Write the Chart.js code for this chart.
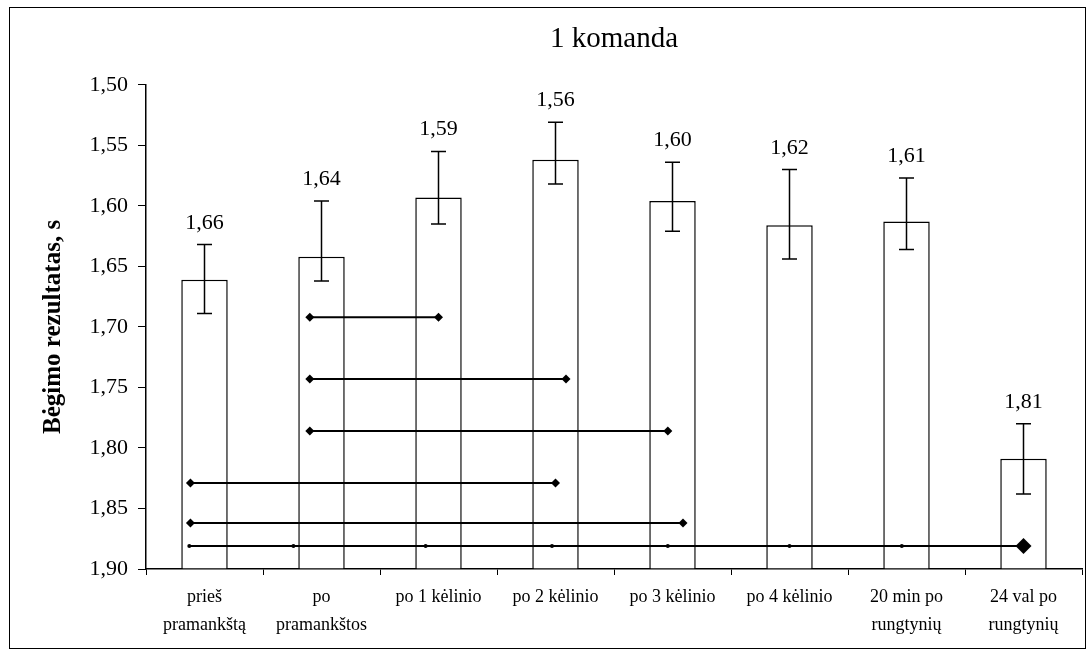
<!DOCTYPE html>
<html>
<head>
<meta charset="utf-8">
<script src="https://cdn.jsdelivr.net/npm/chart.js@4/dist/chart.umd.min.js"></script>
<style>
  html, body { margin: 0; padding: 0; background: #fff; }
  #wrap { position: relative; width: 1092px; height: 655px; }
</style>
</head>
<body>
<div id="wrap"><canvas id="c" width="1092" height="655"></canvas></div>
<script>
// ---- Data ----
const categories = [
  ['prieš', 'pramankštą'],
  ['po', 'pramankštos'],
  'po 1 kėlinio',
  'po 2 kėlinio',
  'po 3 kėlinio',
  'po 4 kėlinio',
  ['20 min po', 'rungtynių'],
  ['24 val po', 'rungtynių']
];
const means = [1.661, 1.642, 1.593, 1.562, 1.596, 1.616, 1.613, 1.809];
const errorTop = [1.632, 1.596, 1.555, 1.531, 1.564, 1.570, 1.577, 1.780];
const errorBottom = [1.689, 1.662, 1.615, 1.582, 1.621, 1.644, 1.636, 1.838];
const yTicks = [1.50, 1.55, 1.60, 1.65, 1.70, 1.75, 1.80, 1.85, 1.90];

// significance comparison lines (x in category index units, y in seconds)
const sigLine1 = [{x: 0.9, y: 1.692}, {x: 2.0, y: 1.692}];
const sigLine2 = [{x: 0.9, y: 1.743}, {x: 3.09, y: 1.743}];
const sigLine3 = [{x: 0.9, y: 1.786}, {x: 3.96, y: 1.786}];
const sigLine4 = [{x: -0.12, y: 1.829}, {x: 3.0, y: 1.829}];
const sigLine5 = [{x: -0.12, y: 1.862}, {x: 4.09, y: 1.862}];
const sigLine6 = [
  {x: -0.13, y: 1.881}, {x: 0.76, y: 1.881}, {x: 1.89, y: 1.881}, {x: 2.97, y: 1.881},
  {x: 3.96, y: 1.881}, {x: 5.0, y: 1.881}, {x: 5.96, y: 1.881}, {x: 7.0, y: 1.881}
];

const FONT = "'Liberation Serif', 'Times New Roman', serif";
const fmt = v => Number(v).toFixed(2).replace('.', ',');

function sigDataset(points, radii, styles) {
  return {
    type: 'line',
    data: points,
    xAxisID: 'x2',
    yAxisID: 'y',
    borderColor: '#000',
    borderWidth: 2,
    pointBackgroundColor: '#000',
    pointBorderColor: '#000',
    pointBorderWidth: 0,
    pointRadius: radii,
    pointHoverRadius: radii,
    pointStyle: styles,
    fill: false,
    tension: 0,
    order: 0
  };
}

const errorBarPlugin = {
  id: 'errorBars',
  afterDatasetsDraw(chart) {
    const ctx = chart.ctx;
    const xs = chart.scales.x, ys = chart.scales.y;
    ctx.save();
    ctx.strokeStyle = '#000';
    ctx.lineWidth = 1.5;
    ctx.fillStyle = '#000';
    ctx.font = '22px ' + FONT;
    ctx.textAlign = 'center';
    ctx.textBaseline = 'alphabetic';
    for (let i = 0; i < means.length; i++) {
      const x = xs.getPixelForValue(i);
      const yt = ys.getPixelForValue(errorTop[i]);
      const yb = ys.getPixelForValue(errorBottom[i]);
      ctx.beginPath();
      ctx.moveTo(x, yt); ctx.lineTo(x, yb);
      ctx.moveTo(x - 7.5, yt); ctx.lineTo(x + 7.5, yt);
      ctx.moveTo(x - 7.5, yb); ctx.lineTo(x + 7.5, yb);
      ctx.stroke();
      ctx.fillText(fmt(means[i]), x, yt - 16);
    }
    ctx.restore();
  }
};

const framePlugin = {
  id: 'frame',
  afterDraw(chart) {
    const ctx = chart.ctx;
    ctx.save();
    ctx.strokeStyle = '#000';
    ctx.lineWidth = 1;
    ctx.strokeRect(9.5, 7.5, 1076, 641);
    ctx.restore();
  }
};

new Chart(document.getElementById('c'), {
  data: {
    labels: categories,
    datasets: [
      {
        type: 'bar',
        data: means,
        base: 1.9,
        grouped: false,
        backgroundColor: '#fff',
        borderColor: '#000',
        borderWidth: 1.5,
        barPercentage: 0.397,
        categoryPercentage: 1.0,
        order: 10
      },
      sigDataset(sigLine1, 4.5, 'rectRot'),
      sigDataset(sigLine2, 4.5, 'rectRot'),
      sigDataset(sigLine3, 4.5, 'rectRot'),
      sigDataset(sigLine4, 4.5, 'rectRot'),
      sigDataset(sigLine5, 4.5, 'rectRot'),
      sigDataset(sigLine6, [2, 2, 2, 2, 2, 2, 2, 8],
        ['circle', 'circle', 'circle', 'circle', 'circle', 'circle', 'circle', 'rectRot'])
    ]
  },
  options: {
    responsive: false,
    animation: false,
    events: [],
    layout: { padding: { left: 0, right: 10, top: 0, bottom: 0 } },
    plugins: {
      legend: { display: false },
      tooltip: { enabled: false },
      title: {
        display: true,
        text: '1 komanda',
        color: '#000',
        fullSize: false,
        font: { family: FONT, size: 29, weight: 'normal', lineHeight: 1.2 },
        padding: { top: 22, bottom: 28 }
      }
    },
    scales: {
      x: {
        type: 'category',
        offset: true,
        grid: { display: true, drawOnChartArea: false, drawTicks: true, tickLength: 6, color: '#000', offset: true, lineWidth: 1 },
        border: { display: true, color: '#000', width: 1.5 },
        ticks: {
          color: '#000',
          font: { family: FONT, size: 18, lineHeight: 1.556 },
          padding: 8,
          maxRotation: 0,
          autoSkip: false
        },
        afterFit(scale) { scale.height = 86; }
      },
      x2: {
        type: 'linear',
        display: false,
        min: -0.5,
        max: 7.5
      },
      y: {
        type: 'linear',
        reverse: true,
        min: 1.5,
        max: 1.9,
        afterBuildTicks(scale) { scale.ticks = yTicks.map(v => ({ value: v })); },
        grid: { display: true, drawOnChartArea: false, drawTicks: true, tickLength: 8, color: '#000', lineWidth: 1 },
        border: { display: true, color: '#000', width: 1.5 },
        ticks: {
          color: '#000',
          font: { family: FONT, size: 22 },
          padding: 10,
          callback: v => fmt(v)
        },
        title: {
          display: true,
          text: 'Bėgimo rezultatas, s',
          color: '#000',
          font: { family: FONT, size: 25, weight: 'bold', lineHeight: 1.2 },
          padding: { top: 39, bottom: 0 }
        },
        afterFit(scale) { scale.width = 146; }
      }
    }
  },
  plugins: [errorBarPlugin, framePlugin]
});
</script>
</body>
</html>
